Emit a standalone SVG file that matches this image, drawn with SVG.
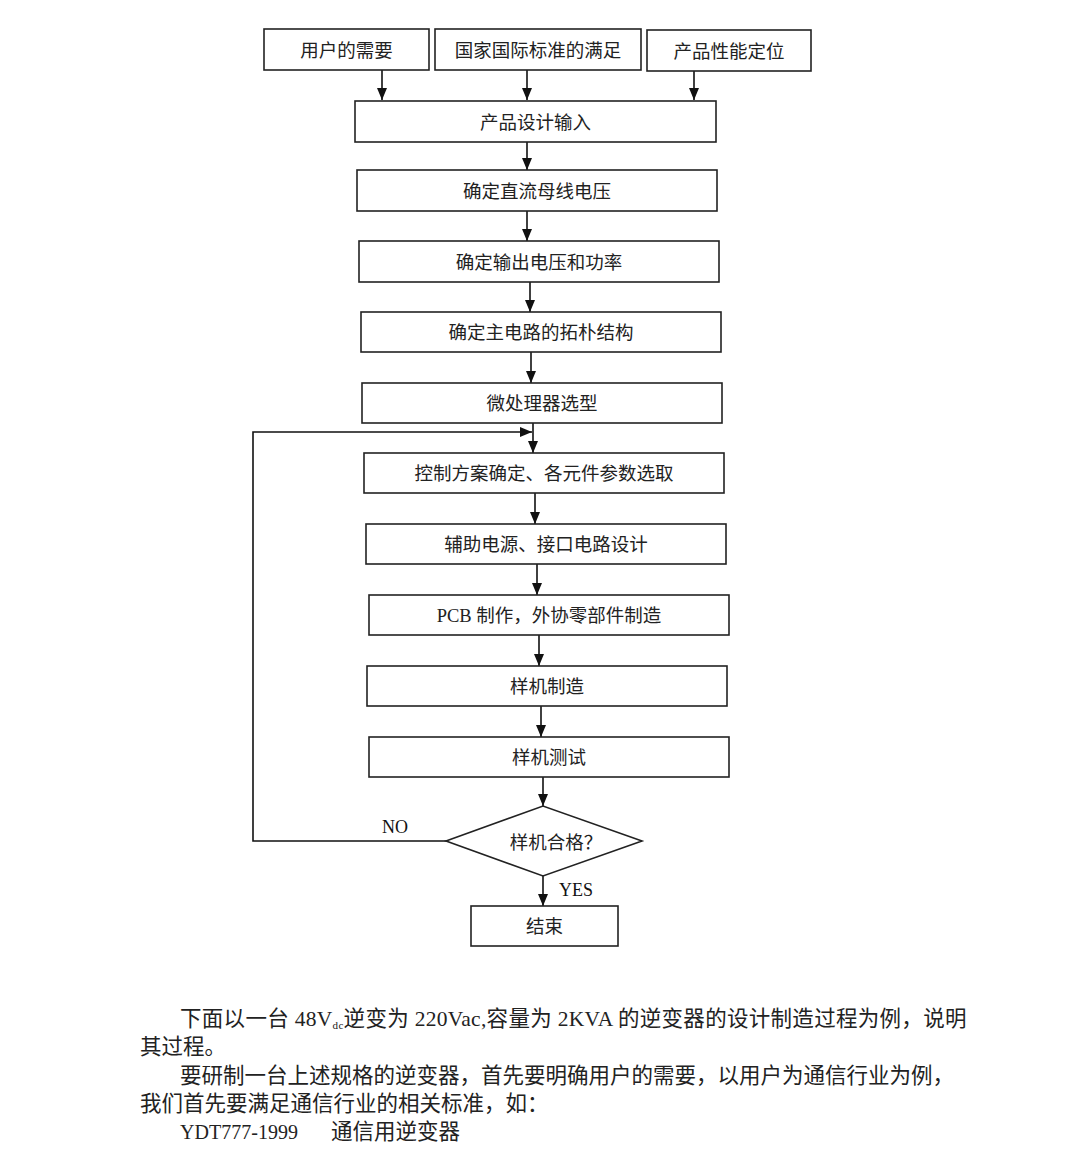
<svg xmlns="http://www.w3.org/2000/svg" width="1080" height="1161" viewBox="0 0 1080 1161">
<defs>
<marker id="ah" viewBox="0 0 12 10" refX="12" refY="5" markerWidth="12" markerHeight="10" markerUnits="userSpaceOnUse" orient="auto">
<path d="M0,0 L12,5 L0,10 z" fill="#111"/>
</marker>
<style>
.box{fill:#fff;stroke:#222;stroke-width:1.6}
.t{font-family:"Liberation Serif","Noto Sans CJK SC",serif;font-size:18.5px;fill:#222;text-anchor:middle;dominant-baseline:central}
.c{fill:none;stroke:#111;stroke-width:1.6}
.lbl{font-family:"Liberation Serif","Noto Sans CJK SC",serif;font-size:18px;fill:#111;text-anchor:middle;dominant-baseline:central}
.p{font-family:"Liberation Serif","Noto Sans CJK SC",serif;font-size:21.5px;fill:#222}
</style>
</defs>
<rect width="1080" height="1161" fill="#fff"/>
<g id="connectors">
<line class="c" x1="382" y1="70" x2="382" y2="100" marker-end="url(#ah)"/>
<line class="c" x1="527" y1="70" x2="527" y2="100" marker-end="url(#ah)"/>
<line class="c" x1="694" y1="71" x2="694" y2="100" marker-end="url(#ah)"/>
<line class="c" x1="527" y1="142" x2="527" y2="170" marker-end="url(#ah)"/>
<line class="c" x1="527" y1="211" x2="527" y2="241" marker-end="url(#ah)"/>
<line class="c" x1="530" y1="282" x2="530" y2="312" marker-end="url(#ah)"/>
<line class="c" x1="531" y1="352" x2="531" y2="383" marker-end="url(#ah)"/>
<line class="c" x1="533" y1="423" x2="533" y2="453" marker-end="url(#ah)"/>
<line class="c" x1="535" y1="493" x2="535" y2="524" marker-end="url(#ah)"/>
<line class="c" x1="537" y1="564" x2="537" y2="595" marker-end="url(#ah)"/>
<line class="c" x1="539" y1="635" x2="539" y2="666" marker-end="url(#ah)"/>
<line class="c" x1="541" y1="706" x2="541" y2="737" marker-end="url(#ah)"/>
<line class="c" x1="543" y1="777" x2="543" y2="806" marker-end="url(#ah)"/>
<line class="c" x1="543" y1="876" x2="543" y2="906" marker-end="url(#ah)"/>
<polyline class="c" points="446,841 253,841 253,432 532,432" marker-end="url(#ah)"/>
<text class="lbl" x="395" y="827">NO</text>
<text class="lbl" x="576" y="890">YES</text>
</g>
<g id="n1"><rect class="box" x="264" y="29" width="165" height="41"/><text class="t" x="346.5" y="51">用户的需要</text></g>
<g id="n2"><rect class="box" x="435" y="29" width="206" height="41"/><text class="t" x="538" y="51">国家国际标准的满足</text></g>
<g id="n3"><rect class="box" x="647" y="30" width="164" height="41"/><text class="t" x="729" y="52">产品性能定位</text></g>
<g id="n4"><rect class="box" x="355" y="101" width="361" height="41"/><text class="t" x="535.5" y="123">产品设计输入</text></g>
<g id="n5"><rect class="box" x="357" y="170" width="360" height="41"/><text class="t" x="537" y="192">确定直流母线电压</text></g>
<g id="n6"><rect class="box" x="359" y="241" width="360" height="41"/><text class="t" x="539" y="263">确定输出电压和功率</text></g>
<g id="n7"><rect class="box" x="361" y="312" width="360" height="40"/><text class="t" x="541" y="333">确定主电路的拓朴结构</text></g>
<g id="n8"><rect class="box" x="362" y="383" width="360" height="40"/><text class="t" x="542" y="404">微处理器选型</text></g>
<g id="n9"><rect class="box" x="364" y="453" width="360" height="40"/><text class="t" x="544" y="474">控制方案确定、各元件参数选取</text></g>
<g id="n10"><rect class="box" x="366" y="524" width="360" height="40"/><text class="t" x="546" y="545">辅助电源、接口电路设计</text></g>
<g id="n11"><rect class="box" x="369" y="595" width="360" height="40"/><text class="t" x="549" y="616">PCB 制作，外协零部件制造</text></g>
<g id="n12"><rect class="box" x="367" y="666" width="360" height="40"/><text class="t" x="547" y="687">样机制造</text></g>
<g id="n13"><rect class="box" x="369" y="737" width="360" height="40"/><text class="t" x="549" y="758">样机测试</text></g>
<g id="n14"><polygon class="box" points="446,841 543,806 642,841 543,876"/><text class="t" x="556" y="843">样机合格？</text></g>
<g id="n15"><rect class="box" x="471" y="906" width="147" height="40"/><text class="t" x="544.5" y="927">结束</text></g>
<g id="para">
<text class="p" x="180" y="1026" letter-spacing="0.3">下面以一台 48V<tspan font-size="11" dy="3">dc</tspan><tspan dy="-3">逆变为 220Vac,容量为 2KVA 的逆变器的设计制造过程为例，说明</tspan></text>
<text class="p" x="140" y="1054">其过程。</text>
<text class="p" x="180" y="1083">要研制一台上述规格的逆变器，首先要明确用户的需要，以用户为通信行业为例，</text>
<text class="p" x="140" y="1111">我们首先要满足通信行业的相关标准，如：</text>
<text class="p" x="180" y="1139" textLength="118" lengthAdjust="spacingAndGlyphs">YDT777-1999</text>
<text class="p" x="331" y="1139">通信用逆变器</text>
</g>
</svg>
